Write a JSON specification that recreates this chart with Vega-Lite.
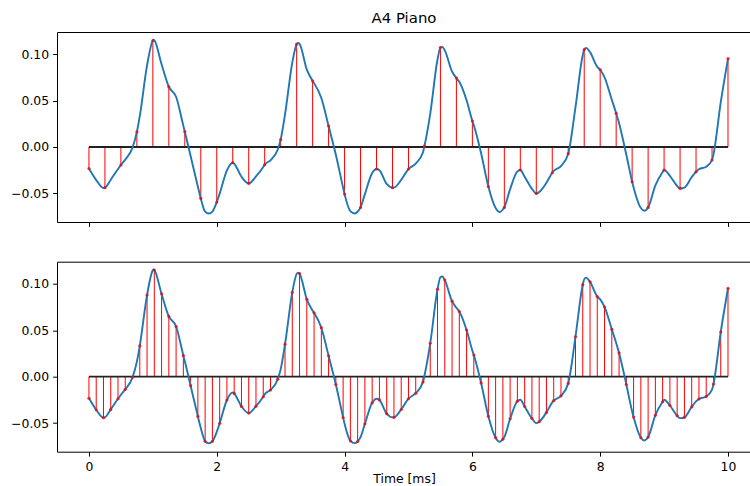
{
  "$schema": "https://vega.github.io/schema/vega-lite/v6.json",
  "padding": {"left": 10, "top": 11, "right": 0, "bottom": 0},
  "background": "white",
  "config": {
    "view": {"stroke": null},
    "font": "DejaVu Sans",
    "axis": {"grid": false, "domainColor": "black", "domainWidth": 1, "tickColor": "black", "tickWidth": 1, "tickSize": 4.4, "labelFontSize": 12.4, "labelColor": "black", "labelFont": "DejaVu Sans", "labelPadding": 4, "titleFont": "DejaVu Sans", "titleFontSize": 12.4, "titleFontWeight": "normal", "titleColor": "black", "titlePadding": 0},
    "title": {"font": "DejaVu Sans", "fontSize": 14.9, "fontWeight": "normal", "color": "black", "offset": 6, "anchor": "middle"},
    "concat": {"spacing": 34.7}
  },
  "datasets": {
    "curve": [
      {"t":0,"v":-0.0232},{"t":0.1136,"v":-0.0356},{"t":0.2273,"v":-0.0441},{"t":0.25,"v":-0.0438},{"t":0.3409,"v":-0.0352},{"t":0.4545,"v":-0.0237},{"t":0.5,"v":-0.0194},{"t":0.5682,"v":-0.0136},{"t":0.6818,"v":-0.0007},{"t":0.75,"v":0.0162},{"t":0.7955,"v":0.0332},{"t":0.9091,"v":0.0878},{"t":1.0,"v":0.1146},{"t":1.01,"v":0.1153},{"t":1.0227,"v":0.1148},{"t":1.1364,"v":0.089},{"t":1.25,"v":0.0648},{"t":1.3636,"v":0.054},{"t":1.4773,"v":0.0227},{"t":1.5,"v":0.0165},{"t":1.5909,"v":-0.0097},{"t":1.7045,"v":-0.0427},{"t":1.75,"v":-0.0553},{"t":1.8182,"v":-0.0695},{"t":1.875,"v":-0.0716},{"t":1.9318,"v":-0.0695},{"t":2.0,"v":-0.0593},{"t":2.0455,"v":-0.0502},{"t":2.1591,"v":-0.0251},{"t":2.25,"v":-0.0169},{"t":2.2727,"v":-0.018},{"t":2.3864,"v":-0.032},{"t":2.5,"v":-0.0392},{"t":2.6136,"v":-0.0317},{"t":2.7273,"v":-0.0216},{"t":2.75,"v":-0.019},{"t":2.8409,"v":-0.0143},{"t":2.9545,"v":-0.0027},{"t":3.0,"v":0.0079},{"t":3.0682,"v":0.035},{"t":3.1818,"v":0.0907},{"t":3.25,"v":0.1106},{"t":3.275,"v":0.112},{"t":3.2955,"v":0.111},{"t":3.4091,"v":0.0832},{"t":3.5,"v":0.0711},{"t":3.5227,"v":0.0687},{"t":3.6364,"v":0.0527},{"t":3.75,"v":0.0225},{"t":3.8636,"v":-0.0084},{"t":3.9773,"v":-0.0439},{"t":4.0,"v":-0.0507},{"t":4.0909,"v":-0.069},{"t":4.16,"v":-0.0715},{"t":4.2045,"v":-0.0697},{"t":4.25,"v":-0.065},{"t":4.3182,"v":-0.0507},{"t":4.4318,"v":-0.0281},{"t":4.5,"v":-0.0237},{"t":4.5455,"v":-0.025},{"t":4.6591,"v":-0.0398},{"t":4.75,"v":-0.0438},{"t":4.7727,"v":-0.0437},{"t":4.8864,"v":-0.0353},{"t":5.0,"v":-0.0237},{"t":5.1136,"v":-0.0178},{"t":5.2273,"v":-0.0056},{"t":5.25,"v":0.001},{"t":5.3409,"v":0.036},{"t":5.4545,"v":0.0941},{"t":5.5,"v":0.107},{"t":5.53,"v":0.1077},{"t":5.5682,"v":0.1039},{"t":5.6818,"v":0.0812},{"t":5.75,"v":0.0741},{"t":5.7955,"v":0.0701},{"t":5.9091,"v":0.0502},{"t":6.0,"v":0.028},{"t":6.0227,"v":0.0233},{"t":6.1364,"v":-0.0067},{"t":6.25,"v":-0.0425},{"t":6.3636,"v":-0.0656},{"t":6.43,"v":-0.07},{"t":6.4773,"v":-0.0672},{"t":6.5,"v":-0.065},{"t":6.5909,"v":-0.0453},{"t":6.7045,"v":-0.0263},{"t":6.75,"v":-0.0248},{"t":6.8182,"v":-0.0321},{"t":6.9318,"v":-0.045},{"t":7.0,"v":-0.05},{"t":7.0455,"v":-0.0485},{"t":7.1591,"v":-0.0384},{"t":7.25,"v":-0.0277},{"t":7.2727,"v":-0.0258},{"t":7.3864,"v":-0.0206},{"t":7.5,"v":-0.0072},{"t":7.6136,"v":0.043},{"t":7.7273,"v":0.099},{"t":7.75,"v":0.1047},{"t":7.78,"v":0.1066},{"t":7.8409,"v":0.102},{"t":7.9545,"v":0.0862},{"t":8.0,"v":0.0831},{"t":8.0682,"v":0.075},{"t":8.1818,"v":0.0509},{"t":8.25,"v":0.0363},{"t":8.2955,"v":0.0256},{"t":8.4091,"v":-0.0084},{"t":8.5,"v":-0.0374},{"t":8.5227,"v":-0.0435},{"t":8.6364,"v":-0.0657},{"t":8.69,"v":-0.0686},{"t":8.75,"v":-0.065},{"t":8.8636,"v":-0.0414},{"t":8.9773,"v":-0.027},{"t":9.0,"v":-0.0248},{"t":9.0909,"v":-0.031},{"t":9.2045,"v":-0.042},{"t":9.25,"v":-0.0446},{"t":9.3182,"v":-0.0437},{"t":9.4318,"v":-0.0325},{"t":9.5,"v":-0.0266},{"t":9.5455,"v":-0.024},{"t":9.6591,"v":-0.0213},{"t":9.75,"v":-0.014},{"t":9.7727,"v":-0.008},{"t":9.8864,"v":0.048},{"t":10.0,"v":0.095}
    ],
    "s4": [
      {"t":0,"v":-0.0232},{"t":0.25,"v":-0.0438},{"t":0.5,"v":-0.0194},{"t":0.75,"v":0.0162},{"t":1.0,"v":0.1146},{"t":1.25,"v":0.0648},{"t":1.5,"v":0.0165},{"t":1.75,"v":-0.0553},{"t":2.0,"v":-0.0593},{"t":2.25,"v":-0.0169},{"t":2.5,"v":-0.0392},{"t":2.75,"v":-0.019},{"t":3.0,"v":0.0079},{"t":3.25,"v":0.1106},{"t":3.5,"v":0.0711},{"t":3.75,"v":0.0225},{"t":4.0,"v":-0.0507},{"t":4.25,"v":-0.065},{"t":4.5,"v":-0.0237},{"t":4.75,"v":-0.0438},{"t":5.0,"v":-0.0237},{"t":5.25,"v":0.001},{"t":5.5,"v":0.107},{"t":5.75,"v":0.0741},{"t":6.0,"v":0.028},{"t":6.25,"v":-0.0425},{"t":6.5,"v":-0.065},{"t":6.75,"v":-0.0248},{"t":7.0,"v":-0.05},{"t":7.25,"v":-0.0277},{"t":7.5,"v":-0.0072},{"t":7.75,"v":0.1047},{"t":8.0,"v":0.0831},{"t":8.25,"v":0.0363},{"t":8.5,"v":-0.0374},{"t":8.75,"v":-0.065},{"t":9.0,"v":-0.0248},{"t":9.25,"v":-0.0446},{"t":9.5,"v":-0.0266},{"t":9.75,"v":-0.014},{"t":10.0,"v":0.095}
    ],
    "s88": [
      {"t":0,"v":-0.0232},{"t":0.1136,"v":-0.0356},{"t":0.2273,"v":-0.0441},{"t":0.3409,"v":-0.0352},{"t":0.4545,"v":-0.0237},{"t":0.5682,"v":-0.0136},{"t":0.6818,"v":-0.0007},{"t":0.7955,"v":0.0332},{"t":0.9091,"v":0.0878},{"t":1.0227,"v":0.1148},{"t":1.1364,"v":0.089},{"t":1.25,"v":0.0648},{"t":1.3636,"v":0.054},{"t":1.4773,"v":0.0227},{"t":1.5909,"v":-0.0097},{"t":1.7045,"v":-0.0427},{"t":1.8182,"v":-0.0695},{"t":1.9318,"v":-0.0695},{"t":2.0455,"v":-0.0502},{"t":2.1591,"v":-0.0251},{"t":2.2727,"v":-0.018},{"t":2.3864,"v":-0.032},{"t":2.5,"v":-0.0392},{"t":2.6136,"v":-0.0317},{"t":2.7273,"v":-0.0216},{"t":2.8409,"v":-0.0143},{"t":2.9545,"v":-0.0027},{"t":3.0682,"v":0.035},{"t":3.1818,"v":0.0907},{"t":3.2955,"v":0.111},{"t":3.4091,"v":0.0832},{"t":3.5227,"v":0.0687},{"t":3.6364,"v":0.0527},{"t":3.75,"v":0.0225},{"t":3.8636,"v":-0.0084},{"t":3.9773,"v":-0.0439},{"t":4.0909,"v":-0.069},{"t":4.2045,"v":-0.0697},{"t":4.3182,"v":-0.0507},{"t":4.4318,"v":-0.0281},{"t":4.5455,"v":-0.025},{"t":4.6591,"v":-0.0398},{"t":4.7727,"v":-0.0437},{"t":4.8864,"v":-0.0353},{"t":5.0,"v":-0.0237},{"t":5.1136,"v":-0.0178},{"t":5.2273,"v":-0.0056},{"t":5.3409,"v":0.036},{"t":5.4545,"v":0.0941},{"t":5.5682,"v":0.1039},{"t":5.6818,"v":0.0812},{"t":5.7955,"v":0.0701},{"t":5.9091,"v":0.0502},{"t":6.0227,"v":0.0233},{"t":6.1364,"v":-0.0067},{"t":6.25,"v":-0.0425},{"t":6.3636,"v":-0.0656},{"t":6.4773,"v":-0.0672},{"t":6.5909,"v":-0.0453},{"t":6.7045,"v":-0.0263},{"t":6.8182,"v":-0.0321},{"t":6.9318,"v":-0.045},{"t":7.0455,"v":-0.0485},{"t":7.1591,"v":-0.0384},{"t":7.2727,"v":-0.0258},{"t":7.3864,"v":-0.0206},{"t":7.5,"v":-0.0072},{"t":7.6136,"v":0.043},{"t":7.7273,"v":0.099},{"t":7.8409,"v":0.102},{"t":7.9545,"v":0.0862},{"t":8.0682,"v":0.075},{"t":8.1818,"v":0.0509},{"t":8.2955,"v":0.0256},{"t":8.4091,"v":-0.0084},{"t":8.5227,"v":-0.0435},{"t":8.6364,"v":-0.0657},{"t":8.75,"v":-0.065},{"t":8.8636,"v":-0.0414},{"t":8.9773,"v":-0.027},{"t":9.0909,"v":-0.031},{"t":9.2045,"v":-0.042},{"t":9.3182,"v":-0.0437},{"t":9.4318,"v":-0.0325},{"t":9.5455,"v":-0.024},{"t":9.6591,"v":-0.0213},{"t":9.7727,"v":-0.008},{"t":9.8864,"v":0.048},{"t":10.0,"v":0.095}
    ],
    "base": [{"a": 0, "b": 10}]
  },
  "vconcat": [
    {
      "width": 694,
      "height": 190,
      "title": "A4 Piano",
      "layer": [
        {
          "data": {"name": "s4"},
          "mark": {"type": "rule", "color": "#ff0000", "strokeWidth": 1},
          "encoding": {
            "x": {"field": "t", "type": "quantitative", "scale": {"domain": [-0.5, 10.36], "nice": false, "zero": false}, "axis": {"values": [0, 2, 4, 6, 8, 10], "labels": false, "title": null}},
            "y": {"field": "v", "type": "quantitative", "title": null, "scale": {"domain": [-0.0807, 0.1237], "nice": false, "zero": false}, "axis": {"values": [-0.05, 0, 0.05, 0.1], "format": ".2f", "title": null}},
            "y2": {"datum": 0}
          }
        },
        {
          "data": {"name": "base"},
          "mark": {"type": "rule", "color": "#222222", "strokeWidth": 1.8},
          "encoding": {
            "x": {"field": "a", "type": "quantitative", "axis": null},
            "x2": {"field": "b"},
            "y": {"datum": 0, "type": "quantitative", "title": null}
          }
        },
        {
          "data": {"name": "curve"},
          "mark": {"type": "line", "color": "#1f77b4", "strokeWidth": 1.9, "interpolate": "monotone"},
          "encoding": {
            "x": {"field": "t", "type": "quantitative", "axis": null},
            "y": {"field": "v", "type": "quantitative", "title": null}
          }
        },
        {
          "data": {"name": "s4"},
          "mark": {"type": "point", "filled": true, "shape": "circle", "color": "#ff0000", "size": 10, "opacity": 0.8},
          "encoding": {
            "x": {"field": "t", "type": "quantitative", "axis": null},
            "y": {"field": "v", "type": "quantitative", "title": null}
          }
        },
        {
          "data": {"name": "base"},
          "mark": {"type": "rule", "opacity": 0},
          "encoding": {
            "x": {"field": "a", "type": "quantitative", "axis": {"orient": "top", "labels": false, "ticks": false, "title": null, "domain": true}}
          }
        }
      ],
      "resolve": {"axis": {"x": "independent"}}
    },
    {
      "width": 694,
      "height": 190,
      "layer": [
        {
          "data": {"name": "s88"},
          "mark": {"type": "rule", "color": "#ff0000", "strokeWidth": 1},
          "encoding": {
            "x": {"field": "t", "type": "quantitative", "scale": {"domain": [-0.5, 10.36], "nice": false, "zero": false}, "axis": {"values": [0, 2, 4, 6, 8, 10], "format": "d", "title": "Time [ms]"}},
            "y": {"field": "v", "type": "quantitative", "title": null, "scale": {"domain": [-0.0807, 0.1237], "nice": false, "zero": false}, "axis": {"values": [-0.05, 0, 0.05, 0.1], "format": ".2f", "title": null}},
            "y2": {"datum": 0}
          }
        },
        {
          "data": {"name": "base"},
          "mark": {"type": "rule", "color": "#222222", "strokeWidth": 1.8},
          "encoding": {
            "x": {"field": "a", "type": "quantitative", "axis": null},
            "x2": {"field": "b"},
            "y": {"datum": 0, "type": "quantitative", "title": null}
          }
        },
        {
          "data": {"name": "curve"},
          "mark": {"type": "line", "color": "#1f77b4", "strokeWidth": 1.9, "interpolate": "monotone"},
          "encoding": {
            "x": {"field": "t", "type": "quantitative", "axis": null},
            "y": {"field": "v", "type": "quantitative", "title": null}
          }
        },
        {
          "data": {"name": "s88"},
          "mark": {"type": "point", "filled": true, "shape": "circle", "color": "#ff0000", "size": 10, "opacity": 0.8},
          "encoding": {
            "x": {"field": "t", "type": "quantitative", "axis": null},
            "y": {"field": "v", "type": "quantitative", "title": null}
          }
        },
        {
          "data": {"name": "base"},
          "mark": {"type": "rule", "opacity": 0},
          "encoding": {
            "x": {"field": "a", "type": "quantitative", "axis": {"orient": "top", "labels": false, "ticks": false, "title": null, "domain": true}}
          }
        }
      ],
      "resolve": {"axis": {"x": "independent"}}
    }
  ]
}
